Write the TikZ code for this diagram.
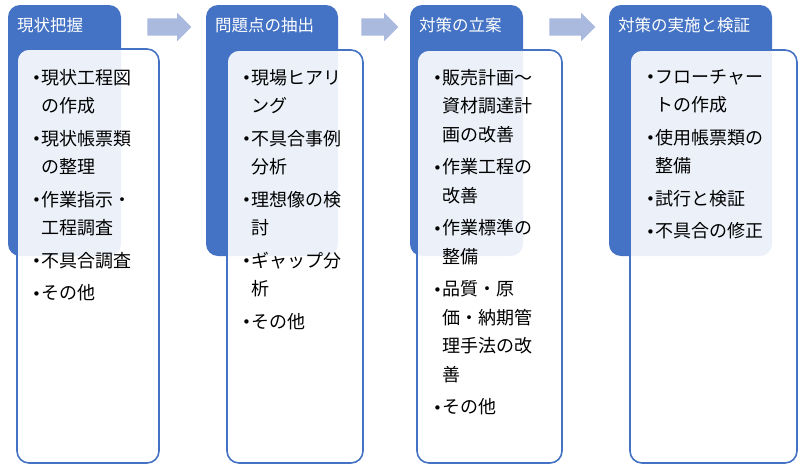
\documentclass[tikz,border=0pt]{standalone}
\usepackage{fontspec}
\setmainfont{Noto Sans CJK JP}
\newfontfamily\bulfont{DejaVu Sans}
\usepackage{tikz}
\usetikzlibrary{shapes.arrows}
\definecolor{phaseblue}{HTML}{4472C4}
\definecolor{arrowblue}{RGB}{170,185,222}
\tikzset{
  phase/.style={fill=phaseblue, rounded corners=12pt},
  listbox/.style={draw=phaseblue, line width=1.6pt, fill=white, fill opacity=0.9, rounded corners=12pt},
  title/.style={anchor=west, inner sep=0pt, text=white, font=\fontsize{16.5}{20}\selectfont},
  items/.style={anchor=north west, inner sep=0pt, align=left, font=\fontsize{18}{28.5}\selectfont},
  flowarrow/.style={single arrow, fill=arrowblue, inner xsep=0pt, inner ysep=8.5pt, minimum width=17pt, single arrow head extend=5.5pt}
}
\newcommand{\bul}{\makebox[8pt][l]{\hspace*{-1pt}\raisebox{0.5pt}{\bulfont\fontsize{15}{15}\selectfont •}}}
\newcommand{\ind}{\hspace*{8pt}}

\begin{document}
\begin{tikzpicture}[x=1pt, y=-1pt]
\useasboundingbox (0,0) rectangle (803,469);

% headers
\path[phase] (8,5) rectangle (121,256);
\path[phase] (206,5) rectangle (338,256);
\path[phase] (410,5) rectangle (523,256);
\path[phase] (609,5) rectangle (772,256);

\node[title] (t1) at (17,25)  {現状把握};
\node[title] (t2) at (215,25) {問題点の抽出};
\node[title] (t3) at (419,25) {対策の立案};
\node[title] (t4) at (618,25) {対策の実施と検証};

% arrows
\node[flowarrow, minimum height=44pt] (a1) at (165,27)   {};
\node[flowarrow, minimum height=37pt] (a2) at (375.5,27) {};
\node[flowarrow, minimum height=46pt] (a3) at (568,27)   {};

% boxes
\path[listbox] (17,49) rectangle (159,463);
\path[listbox] (227,50) rectangle (363,463);
\path[listbox] (417,50) rectangle (562,463);
\path[listbox] (630,50) rectangle (797,463);

\node[items] (l1) at (33,69) {\bul 現状工程図\\ \ind の作成\\[4pt]
  \bul 現状帳票類\\ \ind の整理\\[4pt]
  \bul 作業指示・\\ \ind 工程調査\\[4pt]
  \bul 不具合調査\\[4pt]
  \bul その他};
\node[items] (l2) at (243,69) {\bul 現場ヒアリ\\ \ind ング\\[4pt]
  \bul 不具合事例\\ \ind 分析\\[4pt]
  \bul 理想像の検\\ \ind 討\\[4pt]
  \bul ギャップ分\\ \ind 析\\[4pt]
  \bul その他};
\node[items] (l3) at (434,69) {\bul 販売計画～\\ \ind 資材調達計\\ \ind 画の改善\\[4pt]
  \bul 作業工程の\\ \ind 改善\\[4pt]
  \bul 作業標準の\\ \ind 整備\\[4pt]
  \bul 品質・原\\ \ind 価・納期管\\ \ind 理手法の改\\ \ind 善\\[4pt]
  \bul その他};
\node[items] (l4) at (647,69) {\bul フローチャー\\ \ind トの作成\\[4pt]
  \bul 使用帳票類の\\ \ind 整備\\[4pt]
  \bul 試行と検証\\[4pt]
  \bul 不具合の修正};
\end{tikzpicture}
\end{document}
